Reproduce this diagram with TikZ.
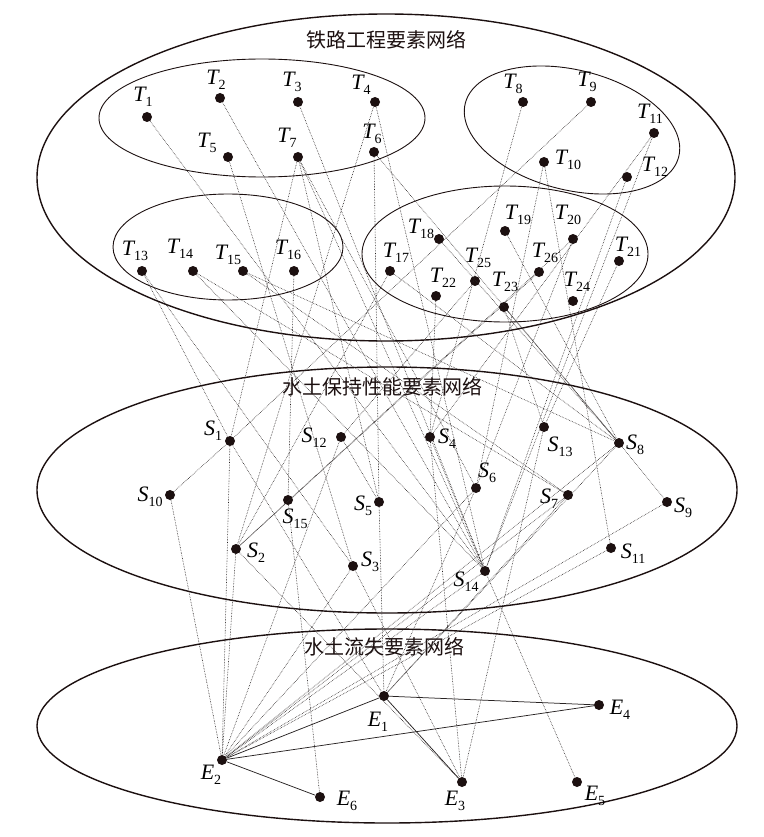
\documentclass[tikz,border=0pt]{standalone}
\usepackage{fontspec}
\setmainfont{Liberation Serif}
\newfontfamily\cjk{Noto Sans CJK SC}
\newcommand\vlab[2]{{\fontsize{22}{22}\selectfont\itshape #1}\raisebox{-5pt}{\fontsize{14}{14}\selectfont #2}}
\definecolor{dotc}{RGB}{28,16,16}
\definecolor{linec}{RGB}{40,35,35}
\begin{document}
\begin{tikzpicture}[x=1pt,y=-1pt,
  dot/.style={circle,fill=dotc,draw=none,inner sep=0pt,minimum size=10pt},
  lbl/.style={inner sep=0pt,anchor=center},
  big/.style={draw=dotc,line width=1.4pt},
  small/.style={draw=dotc,line width=0.9pt},
  dl/.style={draw=linec,densely dotted,line width=0.6pt},
  sl/.style={draw=linec,line width=0.75pt},
  ttl/.style={inner sep=0pt,font=\cjk\fontsize{20}{20}\selectfont,text=dotc}]
\useasboundingbox (0,0) rectangle (763,837);
% ellipses
\draw[big] (386,177.5) ellipse [x radius=349, y radius=163.5];
\draw[big] (387,490) ellipse [x radius=350, y radius=123];
\draw[big] (387,726) ellipse [x radius=350, y radius=97];
\draw[small] (262,118) ellipse [x radius=163, y radius=59];
\draw[small, rotate around={-14:(572,130)}] (572,130) ellipse [x radius=110, y radius=60];
\draw[small] (228,247) ellipse [x radius=115, y radius=53];
\draw[small] (505,254) ellipse [x radius=143, y radius=68];
% titles
\node[ttl] (t1) at (386,40) {铁路工程要素网络};
\node[ttl] (t2) at (382,387) {水土保持性能要素网络};
\node[ttl] (t3) at (384,647) {水土流失要素网络};
% vertices
\foreach \n/\x/\y in {T1/147/117,T2/220/98,T3/298/102,T4/375/102,T5/228/157,T6/374/152,T7/298/157,
  T8/523/102,T9/591/102,T10/544/162,T11/654/133,T12/627/177,
  T13/142/271,T14/193/271,T15/243/271,T16/294/271,
  T17/390/271,T18/439/239,T19/505/231,T20/573/239,T21/619/261,T22/436/296,T23/504/307,T24/573/301,T25/475/281,T26/539/272,
  S1/230/441,S2/236/549,S3/353/566,S4/430/437,S5/379/502,S6/476/488,S7/568/495,S8/619/443,S9/667/502,S10/170/495,
  S11/611/548,S12/341/437,S13/544/427,S14/485/571,S15/288/500,
  E1/384/696,E2/222/760,E3/462/782,E4/599/705,E5/577/782,E6/320/797}
  \node[dot] (\n) at (\x,\y) {};
% labels
\foreach \n/\l/\s/\x/\y in {T1/T/1/143/97,T2/T/2/216/80,T3/T/3/292/82,T4/T/4/361/85,T5/T/5/207/143,T6/T/6/372/134,T7/T/7/287/138,
  T8/T/8/513/84,T9/T/9/587/82,T10/T/10/568/160,T11/T/11/650/114,T12/T/12/655/167,
  T13/T/13/135/251,T14/T/14/180/249,T15/T/15/228/255,T16/T/16/288/250,
  T17/T/17/396/253,T18/T/18/421/229,T19/T/19/518/215,T20/T/20/568/215,T21/T/21/628/247,T22/T/22/443/278,
  T23/T/23/505/282,T24/T/24/577/282,T25/T/25/478/258,T26/T/26/545/253,
  S1/S/1/213/431,S2/S/2/256/553,S3/S/3/370/562,S4/S/4/447/439,S5/S/5/363/506,S6/S/6/487/473,S7/S/7/549/499,
  S8/S/8/635/445,S9/S/9/683/508,S10/S/10/150/497,S11/S/11/633/554,S12/S/12/314/438,S13/S/13/560/447,
  S14/S/14/466/582,S15/S/15/295/519,
  E1/E/1/378/722,E2/E/2/211/775,E3/E/3/455/801,E4/E/4/620/710,E5/E/5/595/796,E6/E/6/347/801}
  \node[lbl] (l\n) at (\x,\y) {\vlab{\l}{\s}};
% dotted connectors
\foreach \a/\b in {T1/S14,T2/S14,T3/S14,T4/S2,T4/S14,T5/S3,T6/S5,T6/S8,T7/S1,T7/S5,T7/S14,T7/S6,
  T8/S4,T9/S1,T10/S6,T10/S11,T11/S4,T11/S14,T12/S14,T13/S1,T13/S3,T14/S7,T14/S14,T15/S7,T15/S8,
  T16/S15,T17/S8,T17/S2,T18/S8,T19/S8,T20/S2,T20/S6,T21/S13,T22/S4,T23/S8,T23/S13,T25/S12,T26/S2,
  S10/S1,S10/E2,S1/E2,S1/E1,S2/E2,S2/E3,S3/E2,S3/E3,S4/E3,S4/S14,S5/E1,S6/E1,S6/E2,S7/E1,S7/E2,
  S8/E1,S8/S9,S8/E2,S9/E2,S11/E2,S12/E2,S12/S5,S13/E3,S14/E5,S14/E2,S15/E6}
  \draw[dl] (\a) -- (\b);
% solid connectors
\foreach \a/\b in {E2/E1,E2/E4,E1/E4,E2/E6,E1/E3}
  \draw[sl] (\a) -- (\b);
\end{tikzpicture}
\end{document}
